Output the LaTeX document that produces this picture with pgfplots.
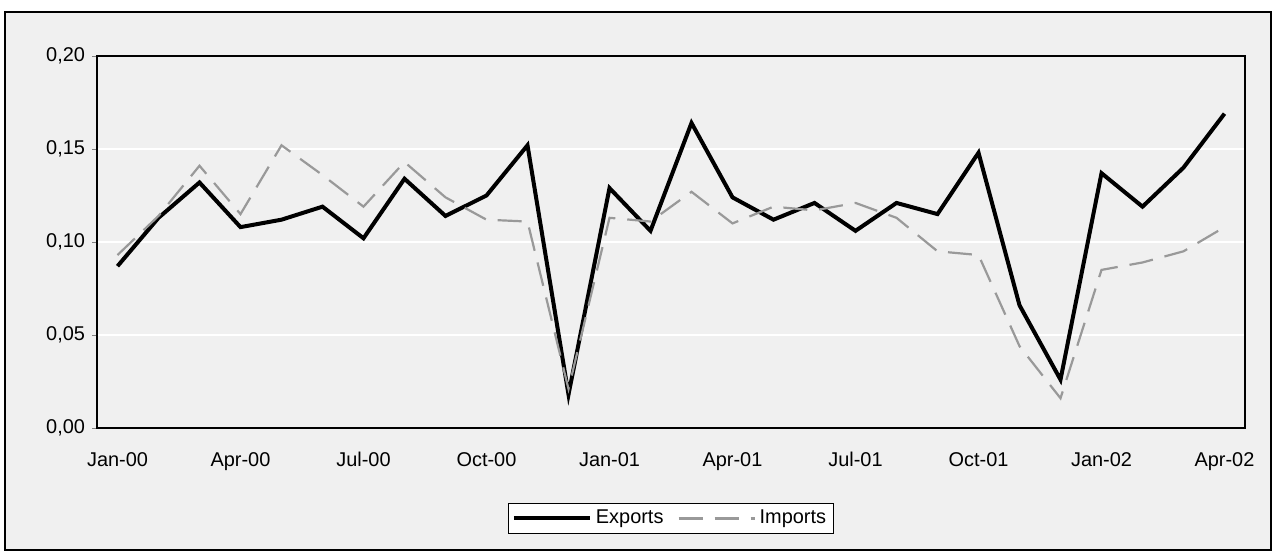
\documentclass[border=0pt]{standalone}
\usepackage{fontspec}
\setmainfont{Liberation Sans}
\usepackage{pgfplots}
\pgfplotsset{compat=1.18}
\pgfplotstableread{
x exp imp
0 0.087 0.093
1 0.113 0.114
2 0.132 0.141
3 0.108 0.115
4 0.112 0.152
5 0.119 0.136
6 0.102 0.119
7 0.134 0.143
8 0.114 0.124
9 0.125 0.112
10 0.152 0.111
11 0.018 0.021
12 0.129 0.113
13 0.106 0.111
14 0.164 0.127
15 0.124 0.110
16 0.112 0.119
17 0.121 0.117
18 0.106 0.121
19 0.121 0.113
20 0.115 0.095
21 0.148 0.093
22 0.066 0.044
23 0.026 0.016
24 0.137 0.085
25 0.119 0.089
26 0.140 0.095
27 0.169 0.108
}\data
\begin{document}
\begin{tikzpicture}
\path[use as bounding box] (0bp,0bp) rectangle (637.5bp,-276.5bp);
\draw[line width=1bp, fill=black!6] (2.5bp,-6bp) rectangle (635.5bp,-275bp);
\begin{axis}[
  at={(48.5bp,-214bp)}, anchor=south west,
  scale only axis, width=574bp, height=186bp,
  xmin=-0.5, xmax=27.5, ymin=0, ymax=0.2,
  axis background/.style={fill=black!6},
  axis line style={black, line width=0.6bp},
  xtick={0,3,6,9,12,15,18,21,24,27},
  xticklabels={Jan-00,Apr-00,Jul-00,Oct-00,Jan-01,Apr-01,Jul-01,Oct-01,Jan-02,Apr-02},
  xtick style={draw=none},
  ytick={0,0.05,0.1,0.15,0.2},
  ytick align=outside, ytick pos=left,
  major tick length=2.5bp,
  ymajorgrids, grid style={white, line width=1.2bp},
  yticklabel style={/pgf/number format/.cd, fixed, fixed zerofill, precision=2, use comma, assume math mode=true},
  tick label style={font=\fontsize{10}{12}\selectfont},
  xticklabel style={yshift=-8bp, text height=7.5bp, text depth=2bp},
  legend style={at={(0.5,-0.243)}, anchor=center, legend columns=2, draw=black, line width=0.5bp, fill=white,
    font=\fontsize{10}{12}\selectfont, inner sep=1.5bp,
    /tikz/every even column/.append style={column sep=5bp}},
  legend image code/.code={\draw[#1] (0bp,0bp) -- (38bp,0bp);},
]
\addplot[black, line width=2bp, line join=miter] table[x=x, y=exp] {\data};
\addlegendentry{Exports}
\addplot[black!40, line width=1.1bp, dash pattern=on 12bp off 6bp] table[x=x, y=imp] {\data};
\addlegendentry{Imports}
\end{axis}
\end{tikzpicture}
\end{document}
